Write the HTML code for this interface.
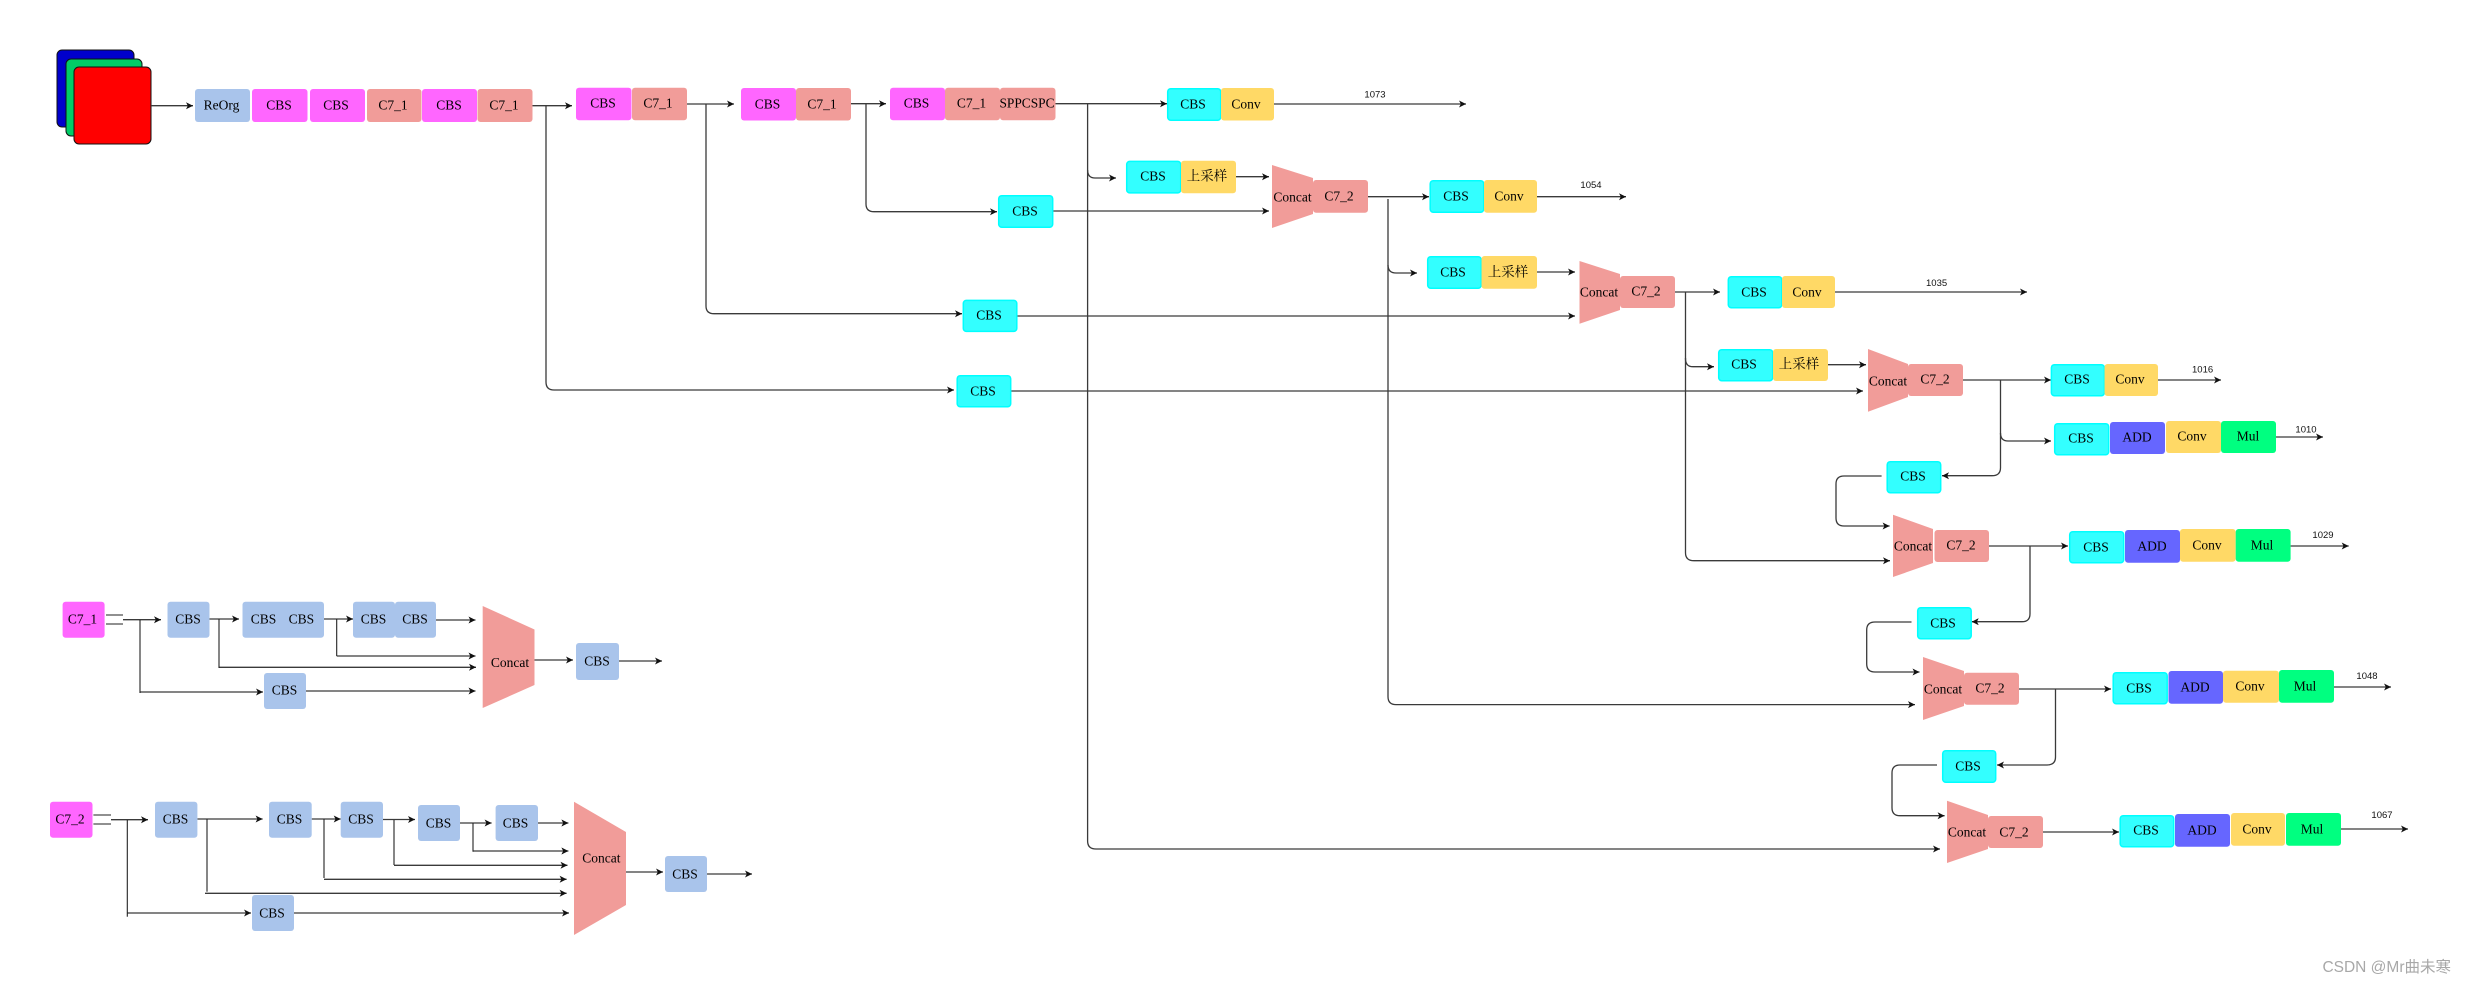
<!DOCTYPE html>
<html lang="en"><head><meta charset="utf-8"><title>YOLOv7 architecture diagram</title>
<style>
html,body{margin:0;padding:0;background:#fff;width:2466px;height:985px;overflow:hidden}
svg{display:block}
.t text{font-family:"Liberation Serif","Noto Serif CJK SC",serif;font-size:13.5px;fill:#000;text-anchor:middle;dominant-baseline:central}
.n text{font-family:"Liberation Sans",sans-serif;font-size:9.5px;fill:#111;text-anchor:middle;dominant-baseline:central}
.l path{fill:none;stroke:#3a3a3a;stroke-width:1.3;marker-end:url(#a)}
.p path{fill:none;stroke:#222;stroke-width:1.1}
.m{fill:#FF66FF}.s{fill:#F19C99}.b{fill:#A9C4EB}.y{fill:#FFD966}.v{fill:#6666FF}.g{fill:#00FF80}
.c{fill:#33FFFF;stroke:#00FFFF;stroke-width:1.5}
</style></head><body>
<svg width="2466" height="985" viewBox="0 0 2466 985" xmlns="http://www.w3.org/2000/svg">
<defs><marker id="a" markerUnits="userSpaceOnUse" markerWidth="8" markerHeight="8" refX="7" refY="4" orient="auto"><path d="M0,0.5 L7,4 L0,7.5 L1.8,4 Z" fill="#111"/></marker></defs>
<rect width="2466" height="985" fill="#fff"/>

<!-- input stack -->
<rect x="57" y="50" width="77" height="77" rx="5" fill="#0000CC" stroke="#111"/>
<rect x="66" y="59" width="76" height="77" rx="5" fill="#00CC66" stroke="#111"/>
<rect x="74" y="67" width="77" height="77" rx="5" fill="#FF0000" stroke="#111"/>

<!-- connectors -->
<g class="l">
<path d="M151,105.7H193"/>
<path d="M532.5,105.7H572"/>
<path d="M687,104H734"/>
<path d="M851,103.7H886"/>
<path d="M1055.5,103.7H1167"/>
<path d="M1274,104H1466"/>
<path d="M1087.6,104V170Q1087.6,178 1095,178H1116"/>
<path d="M1087.6,170V841Q1087.6,849 1096,849H1940"/>
<path d="M866,104V204Q866,211.7 874,211.7H997"/>
<path d="M706,104V306Q706,313.7 714,313.7H962"/>
<path d="M546,105.7V382Q546,390 554,390H954"/>
<path d="M1053,211H1269"/>
<path d="M1236,176.7H1269"/>
<path d="M1017,316H1575"/>
<path d="M1011,391H1863"/>
<path d="M1368,196.7H1429"/>
<path d="M1537,196.7H1626"/>
<path d="M1388,199V265Q1388,273 1396,273H1417"/>
<path d="M1388,265V696.6Q1388,704.6 1396,704.6H1915"/>
<path d="M1537,272H1575"/>
<path d="M1675,292H1720"/>
<path d="M1835,292H2027"/>
<path d="M1685.5,292V358.7Q1685.5,366.7 1693,366.7H1714"/>
<path d="M1685.5,358V552.7Q1685.5,560.7 1694,560.7H1890"/>
<path d="M1828,364.7H1866"/>
<path d="M1963,380H2051"/>
<path d="M2158,380H2221"/>
<path d="M2000.5,380V433Q2000.5,441 2008,441H2051"/>
<path d="M2000.5,433V467.7Q2000.5,475.7 1992,475.7H1942"/>
<path d="M2276,437H2323"/>
<path d="M1881.6,476H1844Q1836,476 1836,484V518Q1836,526 1844,526H1889.6"/>
<path d="M1989,546H2068"/>
<path d="M2290.6,546H2348.7"/>
<path d="M2030,546V613.7Q2030,621.7 2022,621.7H1971.7"/>
<path d="M1911.5,622H1875Q1866.7,622 1866.7,630V664Q1866.7,672 1875,672H1919.5"/>
<path d="M2019,689H2111"/>
<path d="M2334,687H2391"/>
<path d="M2055.5,689V757Q2055.5,765 2047,765H1997"/>
<path d="M1937,765H1900Q1892,765 1892,773V807.7Q1892,815.7 1900,815.7H1944.6"/>
<path d="M2043,832H2119"/>
<path d="M2341,829H2408"/>

<!-- C7_1 detail -->
<path d="M123,619.7H161"/>
<path d="M140,692H263"/>
<path d="M209.5,619H239"/>
<path d="M219,667.3H476"/>
<path d="M324,619H353"/>
<path d="M336.7,656H475.5"/>
<path d="M436,620H475.5"/>
<path d="M306,691H475.5"/>
<path d="M534.5,660H573"/>
<path d="M619,661H662"/>

<!-- C7_2 detail -->
<path d="M111,819.7H148"/>
<path d="M127.3,913H251"/>
<path d="M197.4,819H262.6"/>
<path d="M205,893.3H566.6"/>
<path d="M311.7,819H340.7"/>
<path d="M324,879.3H566.6"/>
<path d="M383,819.5H415"/>
<path d="M394,865.3H567.5"/>
<path d="M460,823H491.6"/>
<path d="M473,851H568.4"/>
<path d="M538,823H568.4"/>
<path d="M294,913H569"/>
<path d="M626,872H663"/>
<path d="M707,874H752"/>
</g>
<g class="p">
<path d="M106,615H123M106,624H123"/>
<path d="M140,620V693"/>
<path d="M219,619V668"/>
<path d="M336.7,619V656"/>
<path d="M93.4,815H111M93.4,824H111"/>
<path d="M127.3,820V916.7"/>
<path d="M207,819V891.7"/>
<path d="M324,819V878"/>
<path d="M394,820V865"/>
<path d="M473,823V851.7"/>
</g>

<!-- top row -->
<g class="t">
<rect class="b" x="195" y="89" width="55" height="33" rx="3"/><text x="221.5" y="105">ReOrg</text>
<rect class="m" x="252" y="89" width="55.5" height="33" rx="3"/><text x="279" y="105">CBS</text>
<rect class="m" x="310" y="89" width="55" height="33" rx="3"/><text x="336" y="105">CBS</text>
<rect class="s" x="367" y="89" width="54.5" height="33" rx="3"/><text x="393" y="105">C7_1</text>
<rect class="m" x="422" y="89" width="55" height="33" rx="3"/><text x="449" y="105">CBS</text>
<rect class="s" x="477.5" y="89" width="55" height="33" rx="3"/><text x="504" y="105">C7_1</text>
<rect class="m" x="576" y="87.7" width="55.5" height="32.5" rx="3"/><text x="603" y="103">CBS</text>
<rect class="s" x="632" y="87.7" width="55" height="32.5" rx="3"/><text x="658" y="103">C7_1</text>
<rect class="m" x="741" y="88" width="55" height="32.5" rx="3"/><text x="767.5" y="104">CBS</text>
<rect class="s" x="796" y="88" width="55" height="32.5" rx="3"/><text x="822" y="104">C7_1</text>
<rect class="m" x="890" y="87.7" width="55" height="32.5" rx="3"/><text x="916.5" y="103">CBS</text>
<rect class="s" x="945" y="87.7" width="55" height="32.5" rx="3"/><text x="971.5" y="103">C7_1</text>
<rect class="s" x="1000" y="87.7" width="55.5" height="32.5" rx="3"/><text x="1027" y="103" textLength="55" lengthAdjust="spacingAndGlyphs">SPPCSPC</text>

<rect class="c" x="1167.7" y="88.7" width="53" height="31.5" rx="3"/><text x="1193" y="104">CBS</text>
<rect class="y" x="1221" y="88" width="53" height="32.5" rx="3"/><text x="1246" y="104">Conv</text>

<rect class="c" x="1126.7" y="161.4" width="54" height="31.5" rx="3"/><text x="1153" y="176">CBS</text>
<rect class="y" x="1181" y="160.7" width="55" height="32.5" rx="3"/><text x="1207" y="176">上采样</text>
<rect class="c" x="998.7" y="195.7" width="54" height="31.5" rx="3"/><text x="1025" y="211">CBS</text>

<polygon class="s" points="1272,165 1313,178 1313,214 1272,228"/><text x="1292.5" y="197">Concat</text>
<rect class="s" x="1313" y="180" width="55" height="32.7" rx="3"/><text x="1339" y="196">C7_2</text>
<rect class="c" x="1430.2" y="180.7" width="53.5" height="31.5" rx="3"/><text x="1456" y="196">CBS</text>
<rect class="y" x="1484" y="180" width="53" height="32.7" rx="3"/><text x="1509" y="196">Conv</text>

<rect class="c" x="1427.7" y="256.7" width="53.5" height="31.5" rx="3"/><text x="1453" y="272">CBS</text>
<rect class="y" x="1481.5" y="256" width="55.5" height="32.7" rx="3"/><text x="1508" y="272">上采样</text>
<rect class="c" x="963.3" y="300.4" width="53.5" height="31" rx="3"/><text x="989" y="315">CBS</text>

<polygon class="s" points="1579.5,261 1620,274 1620,310 1579.5,323.7"/><text x="1599" y="292">Concat</text>
<rect class="s" x="1620" y="276" width="55" height="32" rx="3"/><text x="1646" y="291">C7_2</text>
<rect class="c" x="1728.3" y="276.7" width="53.5" height="31" rx="3"/><text x="1754" y="292">CBS</text>
<rect class="y" x="1782" y="276" width="53" height="32" rx="3"/><text x="1807" y="292">Conv</text>

<rect class="c" x="1718.7" y="349.7" width="54" height="31" rx="3"/><text x="1744" y="364">CBS</text>
<rect class="y" x="1773" y="349" width="55" height="32" rx="3"/><text x="1799" y="364">上采样</text>
<rect class="c" x="957.2" y="375.7" width="53.5" height="31" rx="3"/><text x="983" y="391">CBS</text>

<polygon class="s" points="1868,349 1908,364 1908,397 1868,411.7"/><text x="1888" y="381">Concat</text>
<rect class="s" x="1908" y="364" width="55" height="32" rx="3"/><text x="1935" y="379">C7_2</text>
<rect class="c" x="2051.4" y="364.7" width="53" height="31" rx="3"/><text x="2077" y="379">CBS</text>
<rect class="y" x="2104.5" y="364" width="53.5" height="32" rx="3"/><text x="2130" y="379">Conv</text>

<rect class="c" x="2054.7" y="423.7" width="54" height="31" rx="3"/><text x="2081" y="438">CBS</text>
<rect class="v" x="2110" y="422" width="55" height="32" rx="3"/><text x="2137" y="437">ADD</text>
<rect class="y" x="2166" y="421" width="55" height="32" rx="3"/><text x="2192" y="436">Conv</text>
<rect class="g" x="2221" y="421" width="55" height="32" rx="3"/><text x="2248" y="436">Mul</text>

<rect class="c" x="1887.2" y="461.7" width="53.5" height="31" rx="3"/><text x="1913" y="476">CBS</text>
<polygon class="s" points="1893,514.7 1933,529 1933,563 1893,577"/><text x="1913" y="546">Concat</text>
<rect class="s" x="1934.5" y="530" width="54.5" height="32" rx="3"/><text x="1961" y="545">C7_2</text>
<rect class="c" x="2069.7" y="531.7" width="54" height="31" rx="3"/><text x="2096" y="547">CBS</text>
<rect class="v" x="2125" y="530" width="55" height="32.7" rx="3"/><text x="2152" y="546">ADD</text>
<rect class="y" x="2180" y="529" width="55.7" height="32.7" rx="3"/><text x="2207" y="545">Conv</text>
<rect class="g" x="2235.7" y="529" width="54.9" height="32.7" rx="3"/><text x="2262" y="545">Mul</text>

<rect class="c" x="1917.7" y="607.7" width="53.5" height="31" rx="3"/><text x="1943" y="623">CBS</text>
<polygon class="s" points="1923,657 1964,671 1964,706 1923,720"/><text x="1943" y="689">Concat</text>
<rect class="s" x="1964" y="672.7" width="55" height="32" rx="3"/><text x="1990" y="688">C7_2</text>
<rect class="c" x="2113.2" y="672.7" width="54" height="31" rx="3"/><text x="2139" y="688">CBS</text>
<rect class="v" x="2168.5" y="671" width="54.5" height="32.7" rx="3"/><text x="2195" y="687">ADD</text>
<rect class="y" x="2223" y="670.7" width="56" height="32" rx="3"/><text x="2250" y="686">Conv</text>
<rect class="g" x="2279" y="670" width="55" height="32.7" rx="3"/><text x="2305" y="686">Mul</text>

<rect class="c" x="1942.7" y="750.7" width="53" height="31.5" rx="3"/><text x="1968" y="766">CBS</text>
<polygon class="s" points="1947,800.7 1988,815 1988,849 1947,863"/><text x="1967" y="832">Concat</text>
<rect class="s" x="1988" y="816" width="55" height="32" rx="3"/><text x="2014" y="832">C7_2</text>
<rect class="c" x="2120.2" y="815.7" width="53.5" height="31" rx="3"/><text x="2146" y="830">CBS</text>
<rect class="v" x="2175" y="814" width="55" height="32.7" rx="3"/><text x="2202" y="830">ADD</text>
<rect class="y" x="2231" y="813" width="54" height="32.7" rx="3"/><text x="2257" y="829">Conv</text>
<rect class="g" x="2286" y="813" width="55" height="32.7" rx="3"/><text x="2312" y="829">Mul</text>

<!-- C7_1 detail -->
<rect class="m" x="62.6" y="601.7" width="42" height="36" rx="3"/><text x="82.5" y="619">C7_1</text>
<rect class="b" x="167.5" y="601.7" width="42" height="36" rx="3"/><text x="188" y="619">CBS</text>
<rect class="b" x="242.5" y="601.7" width="81.5" height="36" rx="3"/><text x="263.5" y="619">CBS</text><text x="301.4" y="619">CBS</text>
<rect class="b" x="353" y="601.7" width="42" height="36" rx="3"/><text x="373.5" y="619">CBS</text>
<rect class="b" x="395" y="601.7" width="41" height="36" rx="3"/><text x="415" y="619">CBS</text>
<rect class="b" x="264" y="673" width="42" height="36" rx="3"/><text x="284.5" y="690">CBS</text>
<polygon class="s" points="482.7,606 534.5,629.5 534.5,685 482.7,708"/><text x="510" y="662.7">Concat</text>
<rect class="b" x="576" y="643" width="43" height="37" rx="3"/><text x="597" y="661">CBS</text>

<!-- C7_2 detail -->
<rect class="m" x="50" y="801.7" width="42.5" height="36" rx="3"/><text x="70" y="819">C7_2</text>
<rect class="b" x="155" y="801.7" width="42.4" height="36" rx="3"/><text x="175.5" y="819">CBS</text>
<rect class="b" x="269" y="801.7" width="42.7" height="36" rx="3"/><text x="289.5" y="819">CBS</text>
<rect class="b" x="340.7" y="801.7" width="42.3" height="36" rx="3"/><text x="361" y="819">CBS</text>
<rect class="b" x="418" y="805" width="42" height="36" rx="3"/><text x="438.5" y="823">CBS</text>
<rect class="b" x="495.6" y="805" width="42.4" height="36" rx="3"/><text x="515.5" y="823">CBS</text>
<rect class="b" x="252" y="895" width="42" height="36" rx="3"/><text x="272" y="913">CBS</text>
<polygon class="s" points="574,801.7 626,832 626,905 574,935"/><text x="601.4" y="858">Concat</text>
<rect class="b" x="665" y="856" width="42" height="36" rx="3"/><text x="685" y="874">CBS</text>
</g>

<!-- output labels -->
<g class="n">
<text x="1375" y="95">1073</text>
<text x="1591" y="185.7">1054</text>
<text x="1936.6" y="283.6">1035</text>
<text x="2202.6" y="370">1016</text>
<text x="2306" y="430">1010</text>
<text x="2323" y="535.7">1029</text>
<text x="2367" y="676.7">1048</text>
<text x="2382" y="815.7">1067</text>
</g>
<text x="2451" y="972" text-anchor="end" font-family="'Liberation Sans','Noto Sans CJK SC',sans-serif" font-size="15.5" fill="#a8a8a8">CSDN @Mr曲未寒</text>
</svg>
</body></html>
